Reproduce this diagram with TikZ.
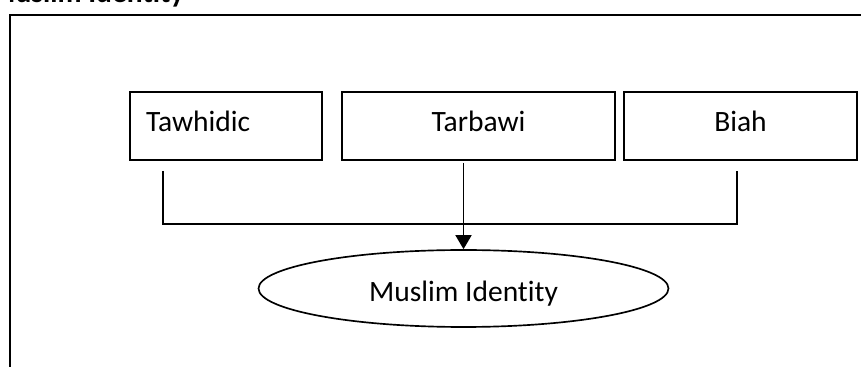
\documentclass[tikz,border=0pt]{standalone}
\usepackage{fontspec}
\setmainfont{Carlito}[Ligatures=NoCommon]
\usetikzlibrary{arrows.meta,shapes.geometric}

\begin{document}
\begin{tikzpicture}[x=0.02cm, y=-0.02cm, line width=0.95pt, factor/.style={rectangle, draw, minimum height=1.36cm, text height=0.65em, text depth=0.25em}, outcome/.style={ellipse, draw, minimum width=8.2cm, minimum height=1.54cm, inner sep=0pt, text height=1.1em, text depth=0.2em}]
\fontsize{16.8}{20}\selectfont
  \useasboundingbox (0,0) rectangle (861,367);
  \clip (0,0) rectangle (861,367);
  \node[anchor=base east, inner sep=0pt, font=\bfseries] (title) at (185,3) {Muslim Identity};
  \draw (10,400) -- (10,15) -- (900,15);

  \node[factor, minimum width=3.84cm, text width=3.2cm, inner xsep=0.32cm, align=left] (tawhidic) at (226,126) {Tawhidic};
  \node[factor, minimum width=5.46cm] (tarbawi) at (478.5,126) {Tarbawi};
  \node[factor, minimum width=4.66cm] (biah) at (740.5,126) {Biah};
  \node[outcome] (identity) at (463.5,288.5) {Muslim Identity};

  \coordinate (joinL) at (163,171);
  \coordinate (joinR) at (737,171);
  \coordinate (drop) at (463.5,163);
  \draw (joinL) -- ++(0,53) -| (joinR);
  \draw[-{Triangle[width=0.32cm, length=0.28cm]}] (drop) -- (identity.north);
\end{tikzpicture}
\end{document}
